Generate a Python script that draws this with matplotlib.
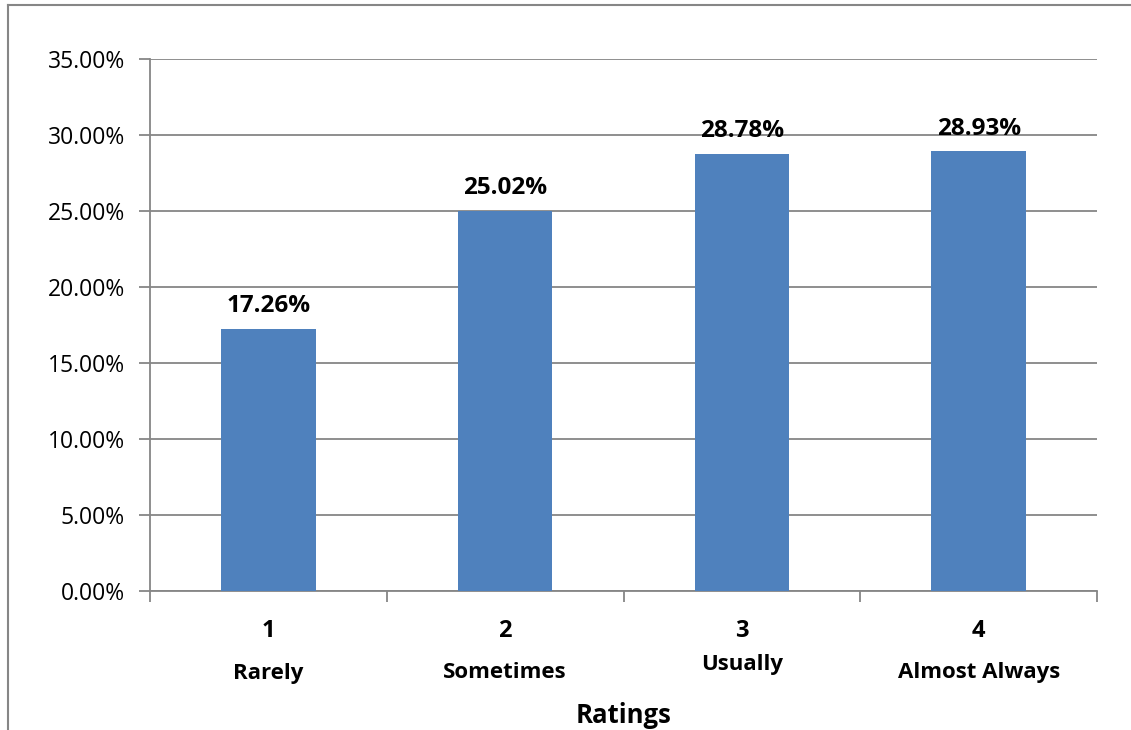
import numpy as np
import matplotlib.pyplot as plt
from matplotlib.lines import Line2D
from matplotlib.ticker import FuncFormatter

plt.rcParams['font.family'] = ['Open Sans', 'DejaVu Sans']

numbers = ["1", "2", "3", "4"]
names = ["Rarely", "Sometimes", "Usually", "Almost Always"]
values = [17.26, 25.02, 28.78, 28.93]
name_offsets = [-0.155, -0.153, -0.139, -0.153]

grey = "#868686"
blue = "#4F81BD"

fig = plt.figure(figsize=(11.31, 7.30), dpi=100)
ax = fig.add_axes([0.1326, 0.1904, 0.8374, 0.7288])

x = np.arange(len(values))
ax.bar(x, values, width=0.4, color=blue, zorder=3)

for xi, v in zip(x, values):
    ax.text(xi, v + 0.7, f"{v:.2f}%", ha="center", va="bottom",
            fontsize=17.5, fontweight="bold")

ax.set_xlim(-0.5, len(values) - 0.5)
ax.set_ylim(0, 35)
ax.set_yticks(np.arange(0, 36, 5))
ax.yaxis.set_major_formatter(FuncFormatter(lambda v, p: f"{v:.2f}%"))
ax.grid(axis="y", color=grey, linewidth=1.3, zorder=0)

ax.set_xticks(np.arange(-0.5, len(values), 1))
ax.set_xticklabels([])
ax.tick_params(axis="x", length=8, width=1.3, color=grey, direction="out")
ax.tick_params(axis="y", length=8, width=1.3, color=grey, direction="out",
               labelsize=16.5, pad=10)

for s in ["top", "right"]:
    ax.spines[s].set_visible(False)
for s in ["left", "bottom"]:
    ax.spines[s].set_color(grey)
    ax.spines[s].set_linewidth(1.3)

trans = ax.get_xaxis_transform()
for xi, num, name, off in zip(x, numbers, names, name_offsets):
    ax.text(xi, -0.076, num, transform=trans, ha="center", va="center",
            fontsize=17, fontweight="bold")
    ax.text(xi, off, name, transform=trans, ha="center", va="center",
            fontsize=16, fontweight="bold")

ax.text(0.5, -0.234, "Ratings", transform=ax.transAxes, ha="center",
        va="center", fontsize=18.5, fontweight="bold")

# outer chart frame (left and top edges)
fig.add_artist(Line2D([0.0071, 0.0071], [0.0, 0.9932], color=grey,
                      linewidth=1.5, transform=fig.transFigure))
fig.add_artist(Line2D([0.0071, 1.0], [0.9932, 0.9932], color=grey,
                      linewidth=1.5, transform=fig.transFigure))

fig.savefig("out.png", dpi=100)
